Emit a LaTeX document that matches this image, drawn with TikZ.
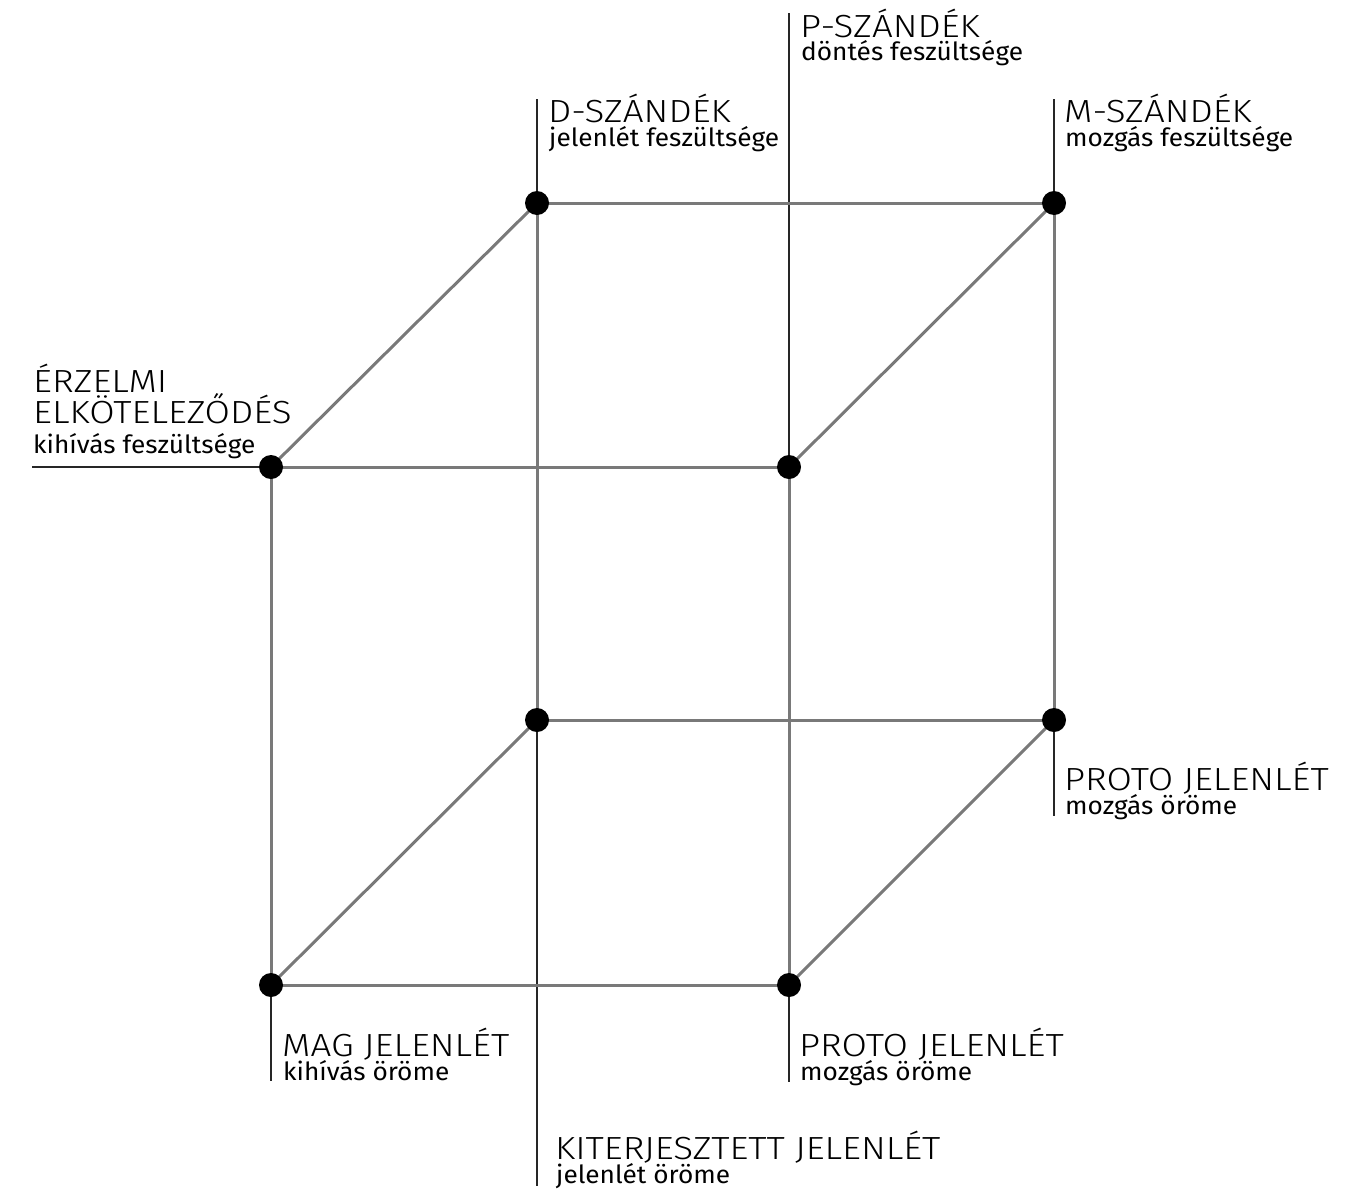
\documentclass[tikz,border=0pt]{standalone}
\usepackage{fontspec}
\setmainfont{Fira Sans}[FakeStretch=1.05]
\newfontfamily\titlefont{Fira Sans Light}[FakeStretch=1.15]
\begin{document}
\begin{tikzpicture}[x=1pt,y=-1pt,
  edge/.style={draw=gray!95!black, line width=3pt},
  lead/.style={draw=black!85, line width=1.3pt},
  dot/.style={circle, fill=black, inner sep=0pt, minimum size=24pt},
  ttl/.style={anchor=base west, inner sep=0pt, font=\titlefont\fontsize{32}{32}\selectfont},
  sub/.style={anchor=base west, inner sep=0pt, font=\fontsize{25}{25}\selectfont}]
\useasboundingbox (0,0) rectangle (1351,1194);
% corner coordinates
\coordinate (A) at (271,467);
\coordinate (B) at (789,467);
\coordinate (C) at (537,203);
\coordinate (D) at (1054,203);
\coordinate (E) at (537,720);
\coordinate (F) at (1054,720);
\coordinate (G) at (271,985);
\coordinate (H) at (789,985);
% leader line ends
\coordinate (lA) at (32,467);
\coordinate (lB) at (789,13);
\coordinate (lC) at (537,99);
\coordinate (lD) at (1054,99);
\coordinate (lE) at (537,1186);
\coordinate (lF) at (1054,816);
\coordinate (lG) at (271,1081);
\coordinate (lH) at (789,1082);
% leader lines
\draw[lead] (lA) -- (A);
\draw[lead] (lB) -- (B);
\draw[lead] (lC) -- (C);
\draw[lead] (lD) -- (D);
\draw[lead] (E) -- (lE);
\draw[lead] (F) -- (lF);
\draw[lead] (G) -- (lG);
\draw[lead] (H) -- (lH);
% cube edges
\draw[edge] (G) -- (A) -- (B) -- (H) -- cycle;
\draw[edge] (E) -- (C) -- (D) -- (F) -- cycle;
\draw[edge] (A) -- (C);
\draw[edge] (B) -- (D);
\draw[edge] (G) -- (E);
\draw[edge] (H) -- (F);
% dots
\foreach \p in {A,B,C,D,E,F,G,H} \node[dot] (d\p) at (\p) {};
% labels
\node[ttl] (tA1) at (33,392) {ÉRZELMI};
\node[ttl] (tA2) at (33,423) {ELKÖTELEZŐDÉS};
\node[sub] (sA) at (33,453) {kihívás feszültsége};
\node[ttl] (tB) at (800,37) {P-SZÁNDÉK};
\node[sub] (sB) at (801,60) {döntés feszültsége};
\node[ttl] (tC) at (548,122) {D-SZÁNDÉK};
\node[sub] (sC) at (549,146) {jelenlét feszültsége};
\node[ttl] (tD) at (1064,122) {M-SZÁNDÉK};
\node[sub] (sD) at (1065,146) {mozgás feszültsége};
\node[ttl] (tF) at (1064,790) {PROTO JELENLÉT};
\node[sub] (sF) at (1065,814) {mozgás öröme};
\node[ttl] (tH) at (799,1056) {PROTO JELENLÉT};
\node[sub] (sH) at (800,1080) {mozgás öröme};
\node[ttl] (tG) at (282,1056) {MAG JELENLÉT};
\node[sub] (sG) at (283,1080) {kihívás öröme};
\node[ttl] (tE) at (555,1159) {KITERJESZTETT JELENLÉT};
\node[sub] (sE) at (556,1183) {jelenlét öröme};
\end{tikzpicture}
\end{document}
